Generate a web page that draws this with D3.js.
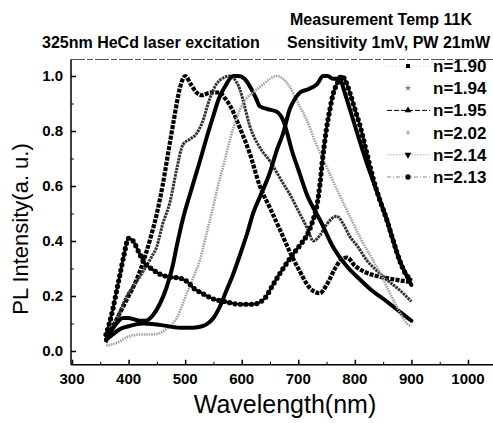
<!DOCTYPE html>
<html>
<head>
<meta charset="utf-8">
<script src="https://cdn.jsdelivr.net/npm/d3@7"></script>
<style>
  body { margin: 0; background: #fff; }
  svg { font-family: "Liberation Sans", Arial, sans-serif; }
</style>
</head>
<body>
<div id="chart"></div>
<script>
// series data (wavelength nm / normalised PL intensity)
var wl190 = [360, 370, 380, 390, 400, 410, 420, 430, 440, 450, 460, 470, 480, 490, 500, 510, 520, 530, 545, 560, 570, 580, 597, 614, 632, 650, 670, 685, 700, 720, 738, 750, 765, 775, 786, 800, 815, 844, 870, 900];
var pl190 = [0.04, 0.08, 0.12, 0.16, 0.20, 0.24, 0.29, 0.35, 0.42, 0.50, 0.60, 0.72, 0.84, 0.95, 1.0, 0.97, 0.94, 0.93, 0.94, 0.94, 0.92, 0.89, 0.81, 0.72, 0.60, 0.52, 0.43, 0.36, 0.30, 0.23, 0.21, 0.24, 0.30, 0.33, 0.34, 0.31, 0.29, 0.27, 0.26, 0.25];

var wl194 = [360, 380, 397, 410, 426, 440, 450, 460, 473, 485, 496, 508, 520, 530, 544, 555, 565, 579, 590, 597, 605, 614, 632, 650, 673, 685, 700, 715, 727, 738, 750, 768, 780, 790, 805, 821, 840, 856, 880, 900];
var pl194 = [0.03, 0.12, 0.20, 0.24, 0.29, 0.34, 0.38, 0.46, 0.54, 0.66, 0.75, 0.77, 0.79, 0.83, 0.92, 0.97, 0.99, 1.0, 0.98, 0.95, 0.89, 0.82, 0.74, 0.69, 0.61, 0.57, 0.51, 0.45, 0.40, 0.42, 0.46, 0.49, 0.46, 0.42, 0.38, 0.33, 0.29, 0.26, 0.22, 0.18];

var wl195 = [360, 375, 390, 400, 410, 420, 430, 443, 455, 467, 478, 485, 496, 510, 526, 540, 549, 560, 570, 585, 594, 605, 615, 625, 632, 645, 662, 673, 690, 700, 715, 740, 761, 785, 809, 830, 850, 875, 900];
var pl195 = [0.04, 0.09, 0.12, 0.12, 0.115, 0.11, 0.11, 0.13, 0.17, 0.23, 0.31, 0.38, 0.48, 0.58, 0.69, 0.79, 0.85, 0.92, 0.96, 1.0, 1.0, 0.99, 0.96, 0.92, 0.89, 0.88, 0.87, 0.84, 0.72, 0.66, 0.57, 0.47, 0.38, 0.31, 0.26, 0.22, 0.19, 0.15, 0.11];

var wl202 = [360, 380, 397, 420, 443, 467, 485, 503, 515, 526, 537, 549, 558, 567, 585, 602, 620, 638, 650, 662, 673, 685, 700, 715, 730, 750, 770, 791, 810, 832, 848, 862, 877, 892, 900];
var pl202 = [0.02, 0.03, 0.05, 0.06, 0.06, 0.08, 0.12, 0.21, 0.27, 0.33, 0.42, 0.52, 0.60, 0.67, 0.81, 0.90, 0.94, 0.97, 0.99, 1.0, 0.99, 0.96, 0.90, 0.84, 0.76, 0.67, 0.58, 0.49, 0.41, 0.33, 0.27, 0.21, 0.15, 0.10, 0.09];

var wl214 = [360, 372, 385, 400, 425, 455, 491, 514, 530, 540, 550, 561, 573, 585, 597, 610, 620, 632, 650, 662, 673, 685, 695, 703, 715, 726, 733, 744, 752, 761, 773, 782, 791, 800, 809, 820, 832, 844, 856, 868, 879, 890, 900];
var pl214 = [0.04, 0.06, 0.08, 0.09, 0.10, 0.095, 0.085, 0.085, 0.09, 0.10, 0.12, 0.16, 0.22, 0.28, 0.35, 0.43, 0.50, 0.56, 0.65, 0.73, 0.79, 0.88, 0.92, 0.94, 0.95, 0.96, 0.97, 1.0, 1.0, 0.99, 0.99, 0.94, 0.88, 0.82, 0.76, 0.69, 0.62, 0.55, 0.48, 0.40, 0.33, 0.28, 0.24];

var wl213 = [360, 366, 372, 378, 385, 392, 400, 408, 418, 428, 440, 455, 470, 491, 505, 514, 530, 549, 570, 597, 620, 640, 655, 670, 690, 705, 715, 725, 733, 738, 742, 746, 750, 756, 761, 768, 777, 784, 791, 800, 809, 820, 832, 844, 856, 868, 879, 890, 900];
var pl213 = [0.06, 0.10, 0.15, 0.21, 0.28, 0.35, 0.41, 0.40, 0.36, 0.32, 0.30, 0.28, 0.27, 0.265, 0.25, 0.23, 0.21, 0.19, 0.18, 0.17, 0.17, 0.19, 0.24, 0.29, 0.35, 0.39, 0.42, 0.47, 0.53, 0.60, 0.68, 0.75, 0.81, 0.88, 0.93, 0.97, 1.0, 0.98, 0.94, 0.88, 0.82, 0.73, 0.63, 0.55, 0.48, 0.40, 0.33, 0.28, 0.26];

var labels = ["n=1.90", "n=1.94", "n=1.95", "n=2.02", "n=2.14", "n=2.13"];
var xTicks = [300, 400, 500, 600, 700, 800, 900, 1000];
var yTicks = [0.0, 0.2, 0.4, 0.6, 0.8, 1.0];

var series = [
    { name: labels[0], x: wl190, y: pl190, color: "#000", width: 4.2, dash: "4 1.3", cap: "butt" },
    { name: labels[1], x: wl194, y: pl194, color: "#333", width: 3, dash: "2.5 0.8", cap: "butt" },
    { name: labels[2], x: wl195, y: pl195, color: "#000", width: 4, dash: null, cap: "round" },
    { name: labels[3], x: wl202, y: pl202, color: "#a0a0a0", width: 2.6, dash: "1.5 1", cap: "butt" },
    { name: labels[4], x: wl214, y: pl214, color: "#000", width: 4, dash: null, cap: "round" },
    { name: labels[5], x: wl213, y: pl213, color: "#000", width: 2.4, dash: null, cap: "round", dots: true }
];

var W = 493, H = 423;
var svg = d3.select("#chart").append("svg")
    .attr("width", W).attr("height", H);

var x = d3.scaleLinear().domain([300, 1000]).range([72, 468]);
var y = d3.scaleLinear().domain([0, 1]).range([351, 76]);
var axisY = y(-0.05), axisTop = y(1.06), axisLeft = 71;

// frame
svg.append("line").attr("x1", axisLeft).attr("x2", W).attr("y1", axisTop).attr("y2", axisTop)
    .attr("stroke", "#555").attr("stroke-width", 1).attr("stroke-dasharray", "14 2 6 2");

var xAxis = svg.append("g").attr("transform", "translate(0," + axisY + ")")
    .call(d3.axisTop(x).tickValues(xTicks).tickSize(5).tickFormat(""));
xAxis.select(".domain").remove();
xAxis.append("line").attr("x1", axisLeft).attr("x2", W).attr("stroke", "#000").attr("stroke-width", 1.5);
xAxis.selectAll("line").attr("stroke-width", 1.5);
svg.append("g").attr("transform", "translate(0," + axisY + ")")
    .call(d3.axisTop(x).tickValues(d3.range(350, 1050, 100)).tickSize(3).tickFormat(""))
    .select(".domain").remove();

svg.selectAll(".xlab").data(xTicks).enter().append("text")
    .attr("x", function(d) { return x(d); })
    .attr("y", axisY + 19)
    .attr("text-anchor", "middle")
    .style("font-size", "15px").style("font-weight", "bold")
    .text(function(d) { return d; });

var yAxis = svg.append("g").attr("transform", "translate(" + axisLeft + ",0)")
    .call(d3.axisRight(y).tickValues(yTicks).tickSize(5).tickFormat(""));
yAxis.select(".domain").remove();
yAxis.append("line").attr("y1", axisTop).attr("y2", axisY).attr("stroke", "#000").attr("stroke-width", 1.5);
yAxis.selectAll("line").attr("stroke-width", 1.5);
svg.append("g").attr("transform", "translate(" + axisLeft + ",0)")
    .call(d3.axisRight(y).tickValues([0.1, 0.3, 0.5, 0.7, 0.9]).tickSize(3).tickFormat(""))
    .select(".domain").remove();

svg.selectAll(".ylab").data(yTicks).enter().append("text")
    .attr("x", 63)
    .attr("y", function(d) { return y(d) + 5; })
    .attr("text-anchor", "end")
    .style("font-size", "15px").style("font-weight", "bold")
    .text(function(d) { return d.toFixed(1); });

// curves
var line = d3.line().curve(d3.curveMonotoneX);
series.forEach(function(s) {
    var pts = s.x.map(function(v, i) { return [x(v), y(s.y[i])]; });
    var p = svg.append("path").attr("d", line(pts))
        .attr("fill", "none").attr("stroke", s.color)
        .attr("stroke-width", s.width).attr("stroke-linecap", s.cap)
        .attr("stroke-linejoin", "round");
    if (s.dash) p.attr("stroke-dasharray", s.dash);
    if (s.dots) {
        svg.append("path").attr("d", line(pts))
            .attr("fill", "none").attr("stroke", "#000")
            .attr("stroke-width", 5.2).attr("stroke-linecap", "round")
            .attr("stroke-dasharray", "0 5.5");
    }
});

// legend
var legendStyle = [
    { line: "#ddd", dash: "2 2", sym: d3.symbolSquare, size: 16, fill: "#000" },
    { line: null, dash: null, sym: d3.symbolStar, size: 14, fill: "#888" },
    { line: "#000", dash: "5 2", sym: d3.symbolTriangle, size: 20, fill: "#000" },
    { line: null, dash: null, sym: d3.symbolCross, size: 10, fill: "#aaa" },
    { line: "#aaa", dash: "1.5 1.5", sym: d3.symbolTriangle, size: 20, fill: "#000", rot: 180 },
    { line: "#888", dash: "4 2 1 2", sym: d3.symbolCircle, size: 22, fill: "#000" }
];
var lg = svg.selectAll(".lg").data(labels).enter().append("g")
    .attr("transform", function(d, i) { return "translate(0," + (66 + i * 22.2) + ")"; });
lg.each(function(d, i) {
    var g = d3.select(this), st = legendStyle[i];
    if (st.line) {
        g.append("line").attr("x1", 387).attr("x2", 430).attr("y1", 0).attr("y2", 0)
            .attr("stroke", st.line).attr("stroke-width", 1).attr("stroke-dasharray", st.dash);
    }
    g.append("path").attr("d", d3.symbol().type(st.sym).size(st.size)())
        .attr("transform", "translate(408,0) rotate(" + (st.rot || 0) + ")")
        .attr("fill", st.fill);
    g.append("text").attr("x", 433).attr("y", 6)
        .style("font-size", "17px").style("font-weight", "bold")
        .text(d);
});

// titles
svg.append("text").attr("x", 42).attr("y", 48)
    .style("font-size", "16px").style("font-weight", "bold")
    .text("325nm HeCd laser excitation");
svg.append("text").attr("x", 290).attr("y", 25)
    .style("font-size", "16px").style("font-weight", "bold")
    .text("Measurement Temp 11K");
svg.append("text").attr("x", 287).attr("y", 48)
    .style("font-size", "16px").style("font-weight", "bold")
    .text("Sensitivity 1mV, PW 21mW");

// axis titles
svg.append("text").attr("x", 285).attr("y", 413)
    .attr("text-anchor", "middle")
    .style("font-size", "25px")
    .text("Wavelength(nm)");
svg.append("text")
    .attr("transform", "translate(28,229) rotate(-90)")
    .attr("text-anchor", "middle")
    .style("font-size", "22px")
    .text("PL Intensity(a. u.)");
</script>
</body>
</html>
